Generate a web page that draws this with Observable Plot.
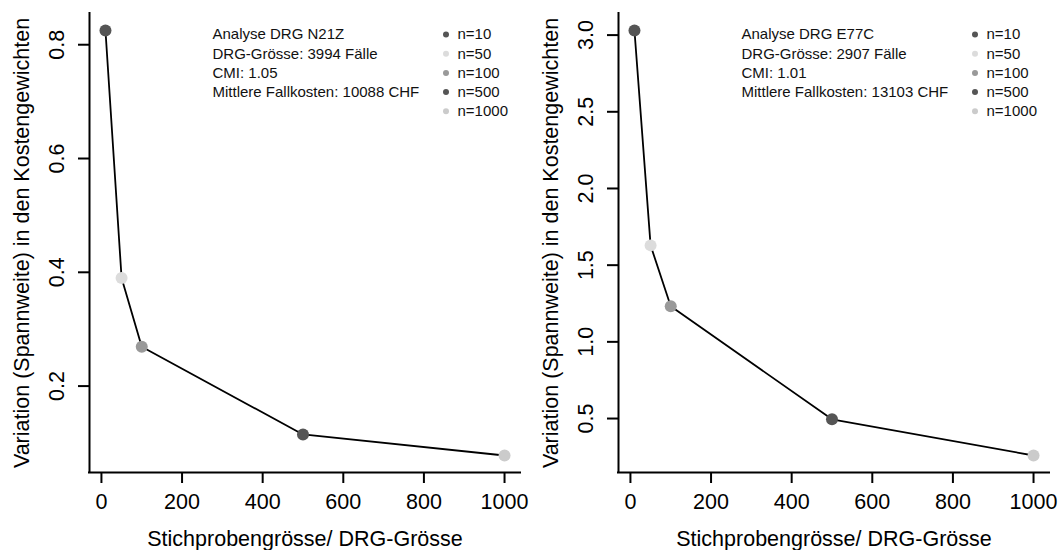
<!DOCTYPE html>
<html><head><meta charset="utf-8">
<script src="https://cdn.jsdelivr.net/npm/d3@7"></script>
<script src="https://cdn.jsdelivr.net/npm/@observablehq/plot@0.6"></script>
<style>
body{margin:0;background:#fff;}
#wrap{display:flex;width:1058px;height:550px;}
#wrap svg{display:block;}
</style></head><body><div id="wrap"></div>
<script>
// ---- data ----
const sampleSizes = [10, 50, 100, 500, 1000];
const legendLabels = ["n=10", "n=50", "n=100", "n=500", "n=1000"];
const pointColors = ["#555555", "#dcdcdc", "#999999", "#555555", "#cbcbcb"];
const rangeN21Z = [0.825, 0.39, 0.269, 0.115, 0.078];
const rangeE77C = [3.03, 1.629, 1.232, 0.495, 0.259];
const xTicks = [0, 200, 400, 600, 800, 1000];
const yTicksN21Z = [0.2, 0.4, 0.6, 0.8];
const yTicksE77C = [0.5, 1.0, 1.5, 2.0, 2.5, 3.0];
const infoN21Z = ["Analyse DRG N21Z", "DRG-Grösse: 3994 Fälle", "CMI: 1.05", "Mittlere Fallkosten: 10088 CHF"];
const infoE77C = ["Analyse DRG E77C", "DRG-Grösse: 2907 Fälle", "CMI: 1.01", "Mittlere Fallkosten: 13103 CHF"];
const xTitle = "Stichprobengrösse/ DRG-Grösse";
const yTitle = "Variation (Spannweite) in den Kostengewichten";

// R-style 4% axis padding
function rPad(vals) {
  const lo = d3.min(vals), hi = d3.max(vals), p = (hi - lo) * 0.04;
  return [lo - p, hi + p];
}

function panel(values, yTicks, info) {
  const data = sampleSizes.map((n, i) => ({n, v: values[i], c: pointColors[i]}));
  const xd = rPad([0, ...sampleSizes].slice(1));
  const yd = rPad(values);
  const FS = 21.5;
  const marks = [
    Plot.line(data, {x: "n", y: "v", stroke: "#000", strokeWidth: 1.8}),
    Plot.dot(data, {x: "n", y: "v", r: 6, fill: d => d.c, stroke: "none"}),
    Plot.ruleX([xd[0]], {stroke: "#000", strokeWidth: 2, strokeLinecap: "square"}),
    Plot.ruleY([yd[0]], {stroke: "#000", strokeWidth: 2, strokeLinecap: "square"}),
    Plot.axisX({ticks: xTicks, tickSize: 11, tickPadding: 10, tickFormat: d => String(d),
      fontSize: FS, strokeWidth: 2, label: null}),
    Plot.axisY({ticks: yTicks, tickSize: 11, tickFormat: () => "", strokeWidth: 2, label: null}),
    Plot.text(yTicks, {y: d => d, frameAnchor: "left", text: d => d.toFixed(1), rotate: -90,
      textAnchor: "middle", lineAnchor: "bottom", dx: -26, fontSize: FS, fill: "#000"}),
    Plot.text([xTitle], {frameAnchor: "bottom", lineAnchor: "bottom", dy: 73, fontSize: FS, fill: "#000"}),
    Plot.text([yTitle], {frameAnchor: "left", rotate: -90, textAnchor: "middle", lineAnchor: "bottom",
      dx: -60.5, fontSize: FS, fill: "#000"})
  ];
  info.forEach((t, i) => {
    marks.push(Plot.text([t], {frameAnchor: "top-left", textAnchor: "start", lineAnchor: "middle",
      dx: 123, dy: 21 + i * 19.2, fontSize: 15, fill: "#111"}));
  });
  legendLabels.forEach((t, i) => {
    marks.push(Plot.dot([0], {frameAnchor: "top-left", dx: 356.5, dy: 21 + i * 19.2, r: 3, fill: pointColors[i]}));
    marks.push(Plot.text([t], {frameAnchor: "top-left", textAnchor: "start", lineAnchor: "middle",
      dx: 368, dy: 21 + i * 19.2, fontSize: 15, fill: "#111"}));
  });
  return Plot.plot({
    width: 529, height: 550,
    marginLeft: 89, marginRight: 9, marginTop: 13, marginBottom: 78,
    x: {domain: xd},
    y: {domain: yd},
    color: {type: "identity"},
    style: {fontFamily: "'Liberation Sans', Arial, sans-serif", background: "#fff", color: "#000", overflow: "visible"},
    marks
  });
}

const wrap = document.getElementById("wrap");
wrap.appendChild(panel(rangeN21Z, yTicksN21Z, infoN21Z));
wrap.appendChild(panel(rangeE77C, yTicksE77C, infoE77C));
</script></body></html>
